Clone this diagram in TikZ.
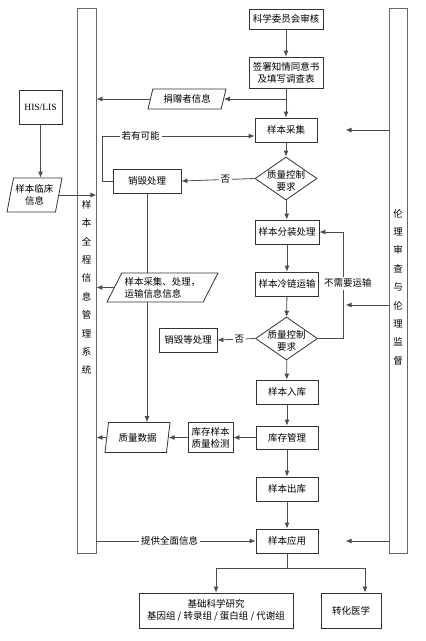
\documentclass[tikz,border=0pt]{standalone}
\usepackage{fontspec}
\setmainfont{Liberation Serif}
\newfontfamily\cjk{Noto Sans CJK SC}
\usetikzlibrary{shapes.geometric,arrows.meta}

\begin{document}
\begin{tikzpicture}[x=1pt,y=-1pt,line width=0.8pt,
  ln/.style={draw=black!70},
  arr/.style={ln,-{Latex[length=6pt,width=5pt]}},
  box/.style={draw=black!80,fill=white,inner sep=1pt,align=center,font=\cjk\fontsize{9.5}{12}\selectfont},
  io/.style 2 args={box,trapezium,trapezium stretches body,trapezium left angle=#1,trapezium right angle=#2},
  qc/.style={draw=black!80,fill=white,diamond,inner sep=0pt,minimum width=62,minimum height=43,
    label={[align=center,yshift=-2pt,font=\cjk\fontsize{9.5}{12}\selectfont]center:质量控制\\要求}},
  bar/.style={draw=black!60,minimum width=19,minimum height=545,inner sep=0pt},
  bartext/.style={align=center,font=\cjk\fontsize{9.5}{18.4}\selectfont},
  lbl/.style={fill=white,inner sep=2pt,font=\cjk\fontsize{9.5}{12}\selectfont}]
  \useasboundingbox (0,0) rectangle (426,641);

  % centre column
  \node[box,minimum width=74,minimum height=20] (sci) at (286,19) {科学委员会审核};
  \node[box,minimum width=74,minimum height=31] (consent) at (286,72.5) {签署知情同意书\\及填写调查表};
  \node[box,minimum width=62,minimum height=24] (collect) at (286,130) {样本采集};
  \node[qc] (q1) at (286,178.5) {};
  \node[box,minimum width=64,minimum height=24] (portion) at (287,232) {样本分装处理};
  \node[box,minimum width=63,minimum height=24] (cold) at (287,284) {样本冷链运输};
  \node[qc] (q2) at (286.5,338.5) {};
  \node[box,minimum width=62,minimum height=24] (store) at (287,392) {样本入库};
  \node[box,minimum width=62,minimum height=23] (stock) at (287,437.5) {库存管理};
  \node[box,minimum width=62,minimum height=24] (out) at (287,489) {样本出库};
  \node[box,minimum width=62,minimum height=24] (apply) at (287,541) {样本应用};
  \node[box,minimum width=154,minimum height=35] (basic) at (216,610.5) {基础科学研究\\基因组 / 转录组 / 蛋白组 / 代谢组};
  \node[box,minimum width=60,minimum height=35] (trans) at (351,610.5) {转化医学};

  % side bars
  \node[bar] (barL) at (86.5,280.5) {};
  \node[bartext] (barLt) at (86.5,287.5) {样\\本\\全\\程\\信\\息\\管\\理\\系\\统};
  \node[bar,minimum width=18] (barR) at (398,280.5) {};
  \node[bartext] (barRt) at (398,287) {伦\\理\\审\\查\\与\\伦\\理\\监\\督};

  % left side
  \node[box,minimum width=43,minimum height=34,font=\fontsize{9.5}{12}\selectfont] (his) at (40.5,107) {HIS/LIS};
  \node[io={74}{106},minimum width=55,minimum height=34] (clinic) at (34.5,195) {样本临床\\信息};
  \node[io={66}{114},minimum width=78,minimum height=20] (donor) at (187,99) {捐赠者信息};
  \node[box,minimum width=68,minimum height=24] (destroy) at (147,181) {销毁处理};
  \node[io={57}{123},minimum width=111,minimum height=29,align=left] (info) at (162.5,287.5) {样本采集、处理，\\运输信息信息};
  \node[box,minimum width=58,minimum height=24] (destroy2) at (188,340) {销毁等处理};
  \node[io={72}{108},minimum width=65,minimum height=30] (qdata) at (137.5,437.5) {质量数据};
  \node[box,minimum width=45,minimum height=30] (check) at (210.5,437.5) {库存样本\\质量检测};

  \draw[arr] (sci) -- (consent);
  \draw[arr] (consent) -- (collect);
  \draw[arr] (consent.south |- donor.east) -- (donor.east);
  \draw[arr] (donor.west) -- (donor.west -| barL.east);
  \draw[arr] (collect) -- (q1);
  \draw[arr] (q1) -- (portion);
  \draw[arr] (q1.west) -- (destroy.east) node[lbl,pos=0.4] {否};
  \draw[arr] (destroy.west) -- ++(-10,0) |- ([yshift=-6pt]collect.west) node[lbl,pos=0.625] {若有可能};
  \draw[ln] (destroy.south) -- (destroy.south |- info.north);
  \draw[arr] (destroy.south |- info.south) -- (destroy.south |- qdata.north);
  \draw[arr] (info.west) -- (info.west -| barL.east);
  \draw[arr] (portion) -- (cold);
  \draw[arr] (cold) -- (q2);
  \draw[arr] (q2) -- (store);
  \draw[arr] (store) -- (stock);
  \draw[arr] (stock) -- (out);
  \draw[arr] (out) -- (apply);
  \draw[arr] (q2.east) -- ++(25,0) |- (portion.east) node[lbl,pos=0.26,xshift=5pt] {不需要运输};
  \draw[arr] (q2.west) -- (destroy2.east) node[lbl,pos=0.42] {否};
  \draw[arr] (stock.west) -- (check.east);
  \draw[arr] (check.west) -- (qdata.east);
  \draw[arr] (qdata.west) -- (qdata.west -| barL.east);
  \draw[arr] (apply.west -| barL.east) -- (apply.west) node[lbl,pos=0.46] {提供全面信息};
  \draw[arr] (his.south) -- (his.south |- clinic.north);
  \draw[arr] (clinic.east) -- (clinic.east -| barL.east);
  \draw[arr] (barR.west |- collect) -- ++(-43,0);
  \draw[arr] (barR.west |- 0,305) -- ++(-43,0);
  \draw[arr] (barR.west |- apply) -- ++(-43,0);
  \draw[ln] (apply.south) -- ++(0,15) coordinate (fork);
  \draw[arr] (fork) -| (basic.north);
  \draw[arr] (fork) -| ([xshift=14pt]trans.north);
\end{tikzpicture}
\end{document}
